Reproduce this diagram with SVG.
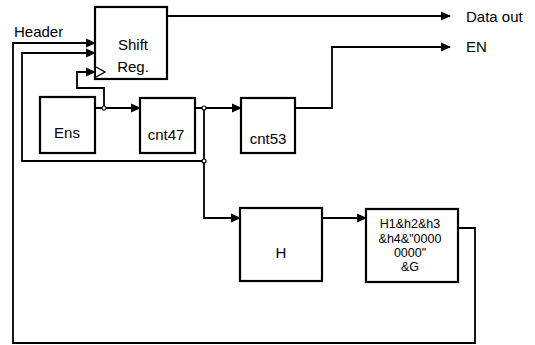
<svg xmlns="http://www.w3.org/2000/svg" width="535" height="345" viewBox="0 0 535 345">
<defs>
<marker id="ah" markerWidth="10" markerHeight="10" refX="9" refY="5" orient="auto" markerUnits="userSpaceOnUse">
<path d="M0,0.5 L10,5 L0,9.5 Z" fill="#000"/>
</marker>
<style>
.box{fill:#fff;stroke:#000;stroke-width:2.2}
.ln{fill:none;stroke:#000;stroke-width:1.8}
.t{font-family:"Liberation Sans",Arial,sans-serif;font-size:15px;fill:#000}
.s{font-family:"Liberation Sans",Arial,sans-serif;font-size:12.5px;fill:#000}
.dot{fill:#fff;stroke:#000;stroke-width:1.2}
</style>
</defs>
<rect width="535" height="345" fill="#fff"/>
<g id="connectors">
<path class="ln" d="M167,16 H450" marker-end="url(#ah)"/>
<path class="ln" d="M295,108 H332 V47 H450" marker-end="url(#ah)"/>
<path class="ln" d="M95,108 H140" marker-end="url(#ah)"/>
<path class="ln" d="M195,108 H241" marker-end="url(#ah)"/>
<path class="ln" d="M104,108 V88 H77 V72 H95" marker-end="url(#ah)"/>
<path class="ln" d="M204,108 V218 H240" marker-end="url(#ah)"/>
<path class="ln" d="M322,218 H366" marker-end="url(#ah)"/>
<path class="ln" d="M458,228 H475 V343 H13 V43 H95" marker-end="url(#ah)"/>
<path class="ln" d="M204,161 H22 V53 H95" marker-end="url(#ah)"/>
<circle class="dot" cx="104" cy="108" r="2"/>
<circle class="dot" cx="204" cy="108" r="2"/>
<circle class="dot" cx="204" cy="161" r="2"/>
</g>
<g id="header"><text class="t" x="14" y="37">Header</text></g>
<g id="dataout"><text class="t" x="466" y="22">Data out</text></g>
<g id="en"><text class="t" x="466" y="52">EN</text></g>
<g id="shiftreg">
<rect class="box" x="95" y="7" width="72" height="72"/>
<path d="M96,67 L105,72 L96,77" fill="#fff" stroke="#000" stroke-width="1.4"/>
<text class="t" x="133" y="50" text-anchor="middle">Shift</text>
<text class="t" x="133" y="72" text-anchor="middle">Reg.</text>
</g>
<g id="ens">
<rect class="box" x="40" y="97" width="55" height="56"/>
<text class="t" x="67" y="138" text-anchor="middle">Ens</text>
</g>
<g id="cnt47">
<rect class="box" x="140" y="98" width="55" height="55"/>
<text class="t" x="166" y="140" text-anchor="middle">cnt47</text>
</g>
<g id="cnt53">
<rect class="box" x="241" y="98" width="54" height="55"/>
<text class="t" x="268" y="144" text-anchor="middle">cnt53</text>
</g>
<g id="h">
<rect class="box" x="240" y="208" width="82" height="73"/>
<text class="t" x="281" y="258" text-anchor="middle">H</text>
</g>
<g id="concat">
<rect class="box" x="366" y="209" width="92" height="73"/>
<text class="s" x="410" y="228" text-anchor="middle">H1&amp;h2&amp;h3</text>
<text class="s" x="410" y="243" text-anchor="middle">&amp;h4&amp;"0000</text>
<text class="s" x="410" y="257" text-anchor="middle">0000"</text>
<text class="s" x="410" y="271" text-anchor="middle">&amp;G</text>
</g>
</svg>
